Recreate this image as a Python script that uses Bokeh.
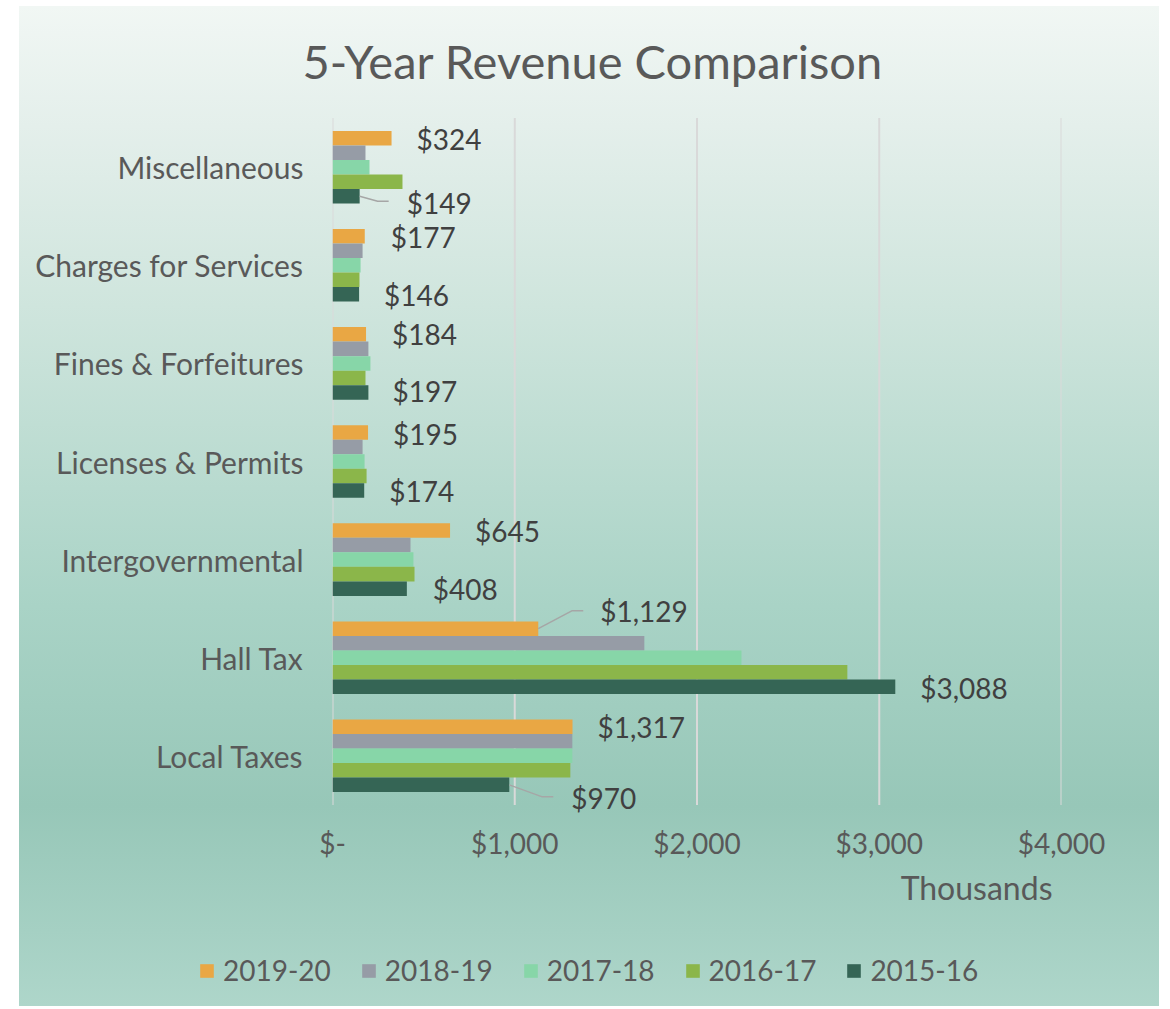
from bokeh.plotting import figure
from bokeh.models import (ColumnDataSource, FactorRange, Range1d, Legend, LegendItem,
                          Title, FixedTicker)
from bokeh.transform import dodge
from bokeh.core.properties import value
from bokeh.embed import file_html
from bokeh.resources import INLINE

# ---------------- data ----------------
categories = ["Local Taxes", "Hall Tax", "Intergovernmental", "Licenses & Permits",
              "Fines & Forfeitures", "Charges for Services", "Miscellaneous"]
years = ["2019-20", "2018-19", "2017-18", "2016-17", "2015-16"]
fy2019_20 = [1317, 1129, 645, 195, 184, 177, 324]
fy2018_19 = [1316, 1711, 428, 165, 197, 165, 181]
fy2017_18 = [1316, 2244, 444, 176, 208, 154, 203]
fy2016_17 = [1305, 2825, 450, 187, 181, 148, 384]
fy2015_16 = [970, 3088, 408, 174, 197, 146, 149]
x_ticks = [0, 1000, 2000, 3000, 4000]
x_tick_labels = ["$-", "$1,000", "$2,000", "$3,000", "$4,000"]

series = [fy2019_20, fy2018_19, fy2017_18, fy2016_17, fy2015_16]
colors = ["#E9A744", "#969CA6", "#87D6A8", "#8BB64A", "#356555"]

# label pixel offsets (style): per category for 2019-20 and 2015-16 labels
top_dx = [25, 62, 25, 25, 26, 26, 25]
top_dy = [0, -18, 0, 2, 0, 1, 1]
bot_dx = [62, 25, 26, 25, 24, 25, 47]
bot_dy = [13, 1, 0, 0, -1, 1, 7]

FONT = "Lato"
LBL = "#404040"
AX = "#595959"

bar_h = 0.148
offsets = [2 * bar_h, bar_h, 0.0, -bar_h, -2 * bar_h]

data = {"cat": categories}
for y, s in zip(years, series):
    data[y] = s
src = ColumnDataSource(data)

p = figure(y_range=FactorRange(*categories, range_padding=0.2, range_padding_units="absolute"),
           x_range=Range1d(0, 4000),
           width=1140, height=925, output_backend="svg", toolbar_location=None,
           min_border_left=313, min_border_right=98, min_border_top=92,
           min_border_bottom=107, margin=(6, 0, 0, 19),
           styles={"background": "linear-gradient(to bottom, #f1f7f4 0px, #e4efeb 120px, #cfe5dd 300px, #a9d3c6 600px, #97c7b8 800px, #a5d0c3 925px)"})
p.background_fill_alpha = 0
p.border_fill_alpha = 0
p.outline_line_color = None

# vertical gridlines at the x ticks
p.segment(x0=x_ticks, x1=x_ticks, y0=[0] * len(x_ticks), y1=[len(categories)] * len(x_ticks),
          line_color="#D9D9D9", line_width=2)

renderers = []
for y, off, c in zip(years, offsets, colors):
    r = p.hbar(y=dodge("cat", off, range=p.y_range), right=y, left=0, height=bar_h,
               source=src, color=c, line_color=None)
    renderers.append(r)

# data labels
def fmt(v):
    return "${:,}".format(v)

top_src = ColumnDataSource(dict(cat=categories, x=fy2019_20,
                                t=[fmt(v) for v in fy2019_20], dx=top_dx, dy=top_dy))
bot_src = ColumnDataSource(dict(cat=categories, x=fy2015_16,
                                t=[fmt(v) for v in fy2015_16], dx=bot_dx, dy=bot_dy))
for s, off in ((top_src, offsets[0]), (bot_src, offsets[4])):
    p.text(x="x", y=dodge("cat", off, range=p.y_range), text="t", source=s,
           x_offset="dx", y_offset="dy",
           text_font=value(FONT), text_font_size="28px", text_color=LBL,
           text_baseline="middle", text_align="left")

# leader lines (derived from bar values)
xpx = 4000 / 729.0
ypx = 1 / 98.1
def cat_y(name, off):
    return categories.index(name) + 0.5 + off
lx, ly = [], []
v = fy2019_20[1]; yy = cat_y("Hall Tax", offsets[0])
lx.append([v, v + 34 * xpx, v + 45 * xpx]); ly.append([yy, yy + 18 * ypx, yy + 18 * ypx])
v = fy2015_16[0]; yy = cat_y("Local Taxes", offsets[4])
lx.append([v, v + 33 * xpx, v + 44 * xpx]); ly.append([yy, yy - 12 * ypx, yy - 12 * ypx])
v = fy2015_16[6]; yy = cat_y("Miscellaneous", offsets[4])
lx.append([v, v + 18 * xpx, v + 29 * xpx]); ly.append([yy, yy - 5 * ypx, yy - 5 * ypx])
p.multi_line(xs=lx, ys=ly, line_color="#A6A6A6", line_width=1.5)

# axes
p.xaxis.ticker = FixedTicker(ticks=x_ticks)
p.xaxis.major_label_overrides = {t: l for t, l in zip(x_ticks, x_tick_labels)}
p.xaxis.axis_line_color = None
p.xaxis.major_tick_line_color = None
p.xaxis.minor_tick_line_color = None
p.xaxis.major_tick_out = 0
p.xaxis.major_label_text_font = FONT
p.xaxis.major_label_text_font_size = "28px"
p.xaxis.major_label_text_color = AX
p.xaxis.major_label_standoff = 1

p.yaxis.axis_line_color = None
p.yaxis.major_tick_line_color = None
p.yaxis.major_label_text_font = FONT
p.yaxis.major_label_text_font_size = "30px"
p.yaxis.major_label_text_color = AX
p.yaxis.major_label_standoff = 23

p.xgrid.grid_line_color = None
p.ygrid.grid_line_color = None

# title
p.title.text = "5-Year Revenue Comparison"
p.title.align = "left"
p.title.offset = -30
p.title.text_font = FONT
p.title.text_font_size = "47px"
p.title.text_font_style = "normal"
p.title.text_color = AX
p.title.standoff = 19

# axis caption
p.add_layout(Title(text="Thousands", align="right", offset=9, text_font=FONT,
                   text_font_size="32px", text_font_style="normal", text_color=AX,
                   standoff=6), "below")

# legend strip (swatches share the series colours)
lg = figure(width=1140, height=75, output_backend="svg", toolbar_location=None,
            x_range=Range1d(0, 1140), y_range=Range1d(0, 75),
            x_axis_location=None, y_axis_location=None, min_border=0, margin=(0, 0, 0, 19),
            styles={"background": "linear-gradient(to bottom, #a5d0c3 0px, #aed6ca 75px)"})
lg.background_fill_alpha = 0
lg.border_fill_alpha = 0
lg.outline_line_color = None
lg.grid.visible = False
swatches = [lg.hbar(y=[-100], right=[1], height=1, color=c, line_color=None) for c in colors]
legend = Legend(items=[LegendItem(label=y, renderers=[r]) for y, r in zip(years, swatches)],
                orientation="horizontal", location=(179, 19),
                background_fill_alpha=0, border_line_color=None,
                label_text_font=FONT, label_text_font_size="28px", label_text_color=AX,
                glyph_width=17, glyph_height=17, spacing=29, label_standoff=8,
                padding=0, margin=0)
lg.add_layout(legend, "center")

open("out.html", "w").write(file_html([p, lg], INLINE))
